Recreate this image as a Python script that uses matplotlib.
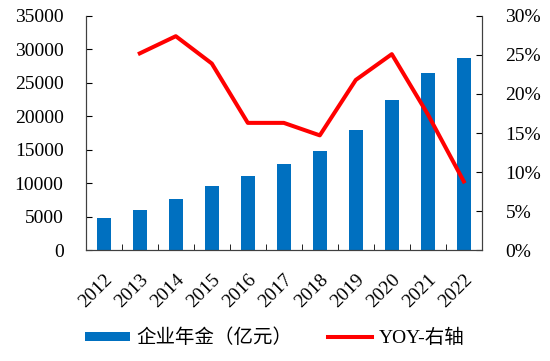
import matplotlib.pyplot as plt
import numpy as np

# 字体设置：西文用衬线体，中文回退到思源
plt.rcParams['font.family'] = ['Liberation Serif', 'Noto Sans CJK SC']
plt.rcParams['axes.unicode_minus'] = False

years = ['2012', '2013', '2014', '2015', '2016', '2017',
         '2018', '2019', '2020', '2021', '2022']
annuity = [4821, 6035, 7689, 9526, 11075, 12880,
           14770, 17985, 22497, 26406, 28717]  # 亿元
yoy = [None, 25.2, 27.4, 23.9, 16.3, 16.3, 14.7, 21.8, 25.1, 17.4, 8.8]  # %

x = np.arange(len(years))

fig = plt.figure(figsize=(5.5, 3.61), dpi=100)
ax = fig.add_axes([0.156, 0.307, 0.72, 0.649])
ax2 = ax.twinx()

ax.bar(x, annuity, width=0.4, color='#0070C0', label='企业年金（亿元）', zorder=2)
yx = [i for i, v in zip(x, yoy) if v is not None]
yv = [v for v in yoy if v is not None]
ax2.plot(yx, yv, color='#FF0000', lw=2.9, label='YOY-右轴')

ax.set_xlim(-0.5, len(years) - 0.5)
ax.set_ylim(0, 35000)
ax.set_yticks(np.arange(0, 35001, 5000))
ax2.set_ylim(0, 30)
ax2.set_yticks(np.arange(0, 31, 5))
ax2.set_yticklabels([f'{t}%' for t in range(0, 31, 5)])

ax.set_xticks(x)
ax.set_xticklabels(years, rotation=45, ha='right', rotation_mode='anchor')
ax.set_xticks(x[:-1] + 0.5, minor=True)
ax.tick_params(axis='x', which='major', length=0, pad=15)
ax.tick_params(axis='x', which='minor', direction='in', length=4)
ax.tick_params(axis='y', direction='in', length=4, pad=16)
ax2.tick_params(axis='y', direction='in', length=4, pad=17)
for a in (ax, ax2):
    a.tick_params(labelsize=14)
    a.spines['top'].set_visible(False)
    for s in ('left', 'right', 'bottom'):
        a.spines[s].set_color('#404040')

h1, l1 = ax.get_legend_handles_labels()
h2, l2 = ax2.get_legend_handles_labels()
fig.legend(h1 + h2, l1 + l2, loc='lower center', bbox_to_anchor=(0.5, -0.01),
           ncol=2, frameon=False, fontsize=14, columnspacing=1.8,
           handlelength=2.3, handleheight=0.35, handletextpad=0.35)

fig.savefig('out.png', dpi=100)
